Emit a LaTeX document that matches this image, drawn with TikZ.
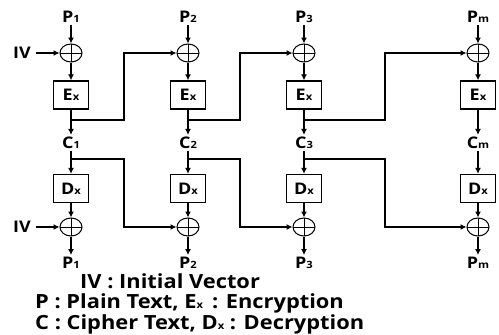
\documentclass[tikz,border=0pt]{standalone}
\usepackage{fontspec}
\setmainfont{Open Sans}[FakeStretch=1.12]
\usetikzlibrary{arrows.meta,shapes.geometric}
\newcommand{\sbs}[1]{{\fontsize{10}{10}\selectfont #1}}

\begin{document}
\begin{tikzpicture}[x=1pt,y=-1pt,
   lbl/.style={font=\fontsize{16}{16}\selectfont\bfseries,inner sep=2pt},
   leg/.style={font=\fontsize{19.5}{19.5}\selectfont\bfseries,anchor=west,inner sep=0pt},
   blk/.style={draw,line width=1.3pt,minimum width=35pt,minimum height=28pt,
               inner sep=0pt,font=\fontsize{16}{16}\selectfont\bfseries},
   xr/.style={draw,ellipse,line width=1pt,minimum width=22pt,minimum height=18pt,
              inner sep=0pt,path picture={
              \draw[line width=1pt] (path picture bounding box.north) -- (path picture bounding box.south)
                    (path picture bounding box.west) -- (path picture bounding box.east);}},
   arr/.style={-{Latex[length=6pt,width=6pt]},line width=1.6pt}
  ]
  \useasboundingbox (0,0) rectangle (499,335);

  % columns: encryption on top, decryption below
  \foreach \i/\xx/\s in {1/71/1,2/188/2,3/304/3,4/478/m}{
    \node[lbl] (p\i)  at (\xx,17)    {P\sbs{\s}};
    \node[xr]  (xe\i) at (\xx,53)    {};
    \node[blk] (e\i)  at (\xx,95)    {E\sbs{x}};
    \node[lbl] (c\i)  at (\xx,143)   {C\sbs{\s}};
    \node[blk] (d\i)  at (\xx,188.5) {D\sbs{x}};
    \node[xr]  (xd\i) at (\xx,227)   {};
    \node[lbl] (q\i)  at (\xx,263)   {P\sbs{\s}};
    \coordinate (t\i) at (\xx,120);
    \coordinate (b\i) at (\xx,159);
    \draw[arr] (p\i) -- (xe\i);
    \draw[arr] (xe\i) -- (e\i);
    \draw[arr] (e\i) -- (c\i);
    \draw[arr] (c\i) -- (d\i);
    \draw[arr] (d\i) -- (xd\i);
    \draw[arr] (xd\i) -- (q\i);
  }

  % chaining corners
  \foreach \i/\j/\kx in {1/2/124,2/3/240,3/4/385}{
    \coordinate (k\i) at (\kx,53);
    \coordinate (h\i) at (\kx,227);
    \draw[arr] (t\i) -| (k\i) -- (xe\j.west);
    \draw[arr] (b\i) -| (h\i) -- (xd\j.west);
  }

  \node[lbl] (iv1) at (22,53)  {IV};
  \node[lbl] (iv2) at (22,227) {IV};
  \draw[arr,shorten <=3pt] (iv1) -- (xe1);
  \draw[arr,shorten <=3pt] (iv2) -- (xd1);

  % legend
  \node[leg] (l1) at (80,281) {IV : Initial Vector};
  \node[leg] (l2) at (35,303) {P : Plain Text, E\sbs{x}\, : Encryption};
  \node[leg] (l3) at (35,324) {C : Cipher Text, D\sbs{x} : Decryption};
\end{tikzpicture}
\end{document}
